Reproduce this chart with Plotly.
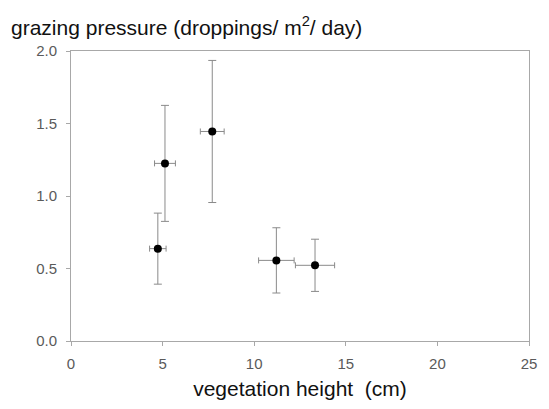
import plotly.graph_objects as go

# Data
veg_height = [4.74, 5.13, 7.71, 11.21, 13.32]          # cm
veg_height_err = [0.45, 0.57, 0.65, 0.97, 1.07]
grazing = [0.637, 1.225, 1.445, 0.556, 0.522]          # droppings / m2 / day
grazing_err = [0.245, 0.40, 0.49, 0.225, 0.18]

x_ticks = [0, 5, 10, 15, 20, 25]
y_ticks = [0.0, 0.5, 1.0, 1.5, 2.0]
y_tick_labels = ["0.0", "0.5", "1.0", "1.5", "2.0"]

err_color = "#8a8a8a"
axis_color = "#a8a8a8"
font_family = "Liberation Sans, Arial, sans-serif"

fig = go.Figure()
fig.add_trace(go.Scatter(
    x=veg_height,
    y=grazing,
    mode="markers",
    marker=dict(color="black", size=8),
    error_x=dict(type="data", array=veg_height_err, color=err_color, thickness=1, width=3),
    error_y=dict(type="data", array=grazing_err, color=err_color, thickness=1, width=4),
    showlegend=False,
))

fig.update_layout(
    width=549,
    height=409,
    margin=dict(l=71, r=12, t=51, b=67),
    paper_bgcolor="white",
    plot_bgcolor="white",
    font=dict(family=font_family, color="#5a5a5a", size=14),
    xaxis=dict(
        range=[0, 25],
        tickvals=x_ticks,
        ticktext=[str(t) for t in x_ticks],
        showgrid=False,
        zeroline=False,
        showline=True,
        linecolor=axis_color,
        linewidth=1,
        mirror=True,
        ticks="outside",
        ticklen=4,
        tickcolor=axis_color,
        ticklabelstandoff=5,
        tickfont=dict(size=15, color="#5a5a5a"),
        title=dict(text="vegetation height  (cm)", font=dict(size=21, color="#111111"), standoff=10),
    ),
    yaxis=dict(
        range=[0, 2.0],
        tickvals=y_ticks,
        ticktext=y_tick_labels,
        showgrid=False,
        zeroline=False,
        showline=True,
        linecolor=axis_color,
        linewidth=1,
        mirror=True,
        ticks="outside",
        ticklen=4,
        tickcolor=axis_color,
        ticklabelstandoff=6,
        tickfont=dict(size=15, color="#5a5a5a"),
    ),
    annotations=[dict(
        text="grazing pressure (droppings/ m<sup>2</sup>/ day)",
        xref="paper", yref="paper",
        x=-63 / (549 - 71 - 12), y=1.0,
        xanchor="left", yanchor="bottom",
        yshift=10,
        showarrow=False,
        font=dict(size=21, color="#111111", family=font_family),
    )],
)

fig.write_html("out.html")
